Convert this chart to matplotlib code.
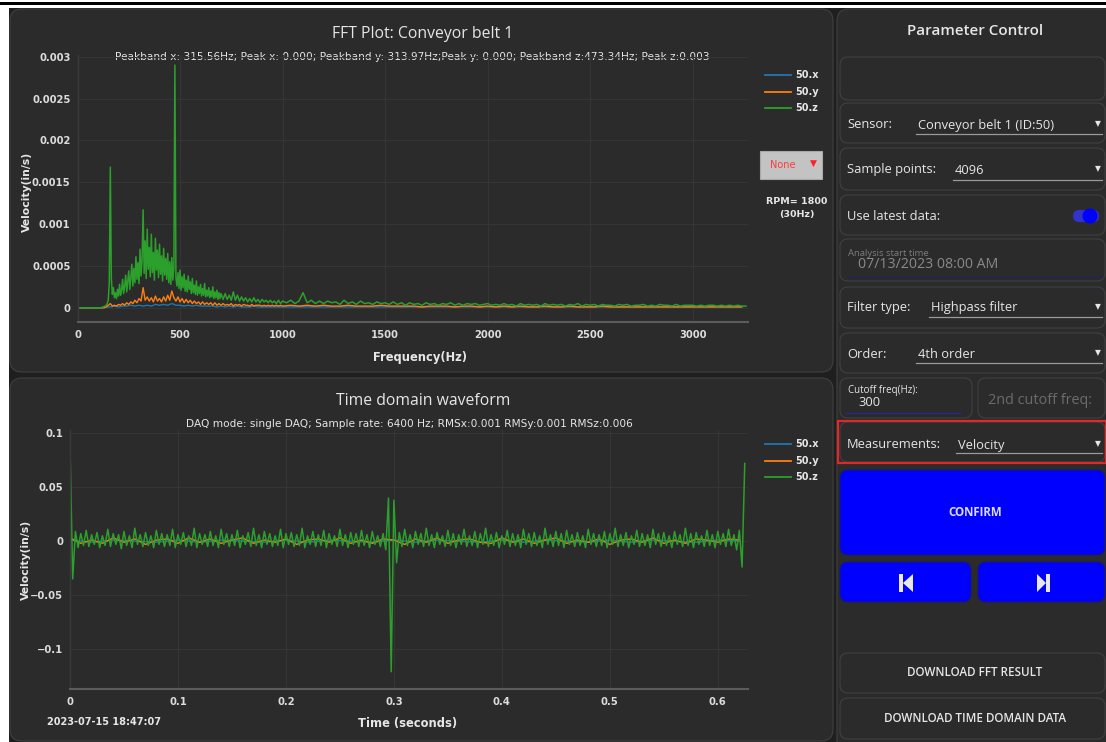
import numpy as np
import matplotlib
matplotlib.use("Agg")
import matplotlib.pyplot as plt
from matplotlib.patches import FancyBboxPatch, Rectangle, Polygon, Circle

# ---------------- data ----------------
# FFT (values in 1e-4 in/s)
# segment A: 0..700 Hz, step 5 Hz
fft_z_a = [0, 0, 0, 0, 0, 0, 0, 0, 0, 0, 0, 0, 0, 0, 0, 0, 0, 0, 0, 0, 0, 0, 0, 0,
           0.05, 0.1, 0.15, 0.2, 0.3, 0.5, 0.9, 3.0, 16.8, 3.5, 1.6, 2.4, 1.2, 1.8, 1.1, 2.2,
           1.4, 2.8, 1.5, 2.1, 3.4, 1.7, 2.6, 3.9, 1.9, 3.1, 4.4, 2.2, 3.6, 5.2, 2.6, 4.7,
           3.0, 6.1, 3.4, 5.4, 2.9, 7.0, 3.8, 5.8, 11.7, 4.1, 8.0, 3.5, 9.4, 4.6, 7.2, 3.7,
           8.8, 4.2, 6.6, 3.3, 8.3, 4.5, 6.9, 3.6, 7.6, 4.0, 6.2, 3.2, 7.1, 3.9, 5.9, 3.4,
           6.5, 3.0, 5.5, 2.8, 6.0, 3.3, 4.8, 29.0, 3.6, 2.6, 4.2, 2.3, 4.5, 2.1, 3.7, 2.4,
           4.0, 2.0, 3.3, 1.9, 3.8, 2.2, 3.1, 1.7, 3.5, 1.8, 2.7, 1.6, 3.2, 1.5, 2.5, 1.7,
           2.8, 1.4, 2.3, 1.5, 2.9, 1.3, 2.1, 1.4, 2.4, 1.2, 2.0, 1.3, 2.5, 1.1, 1.9, 1.2,
           2.1, 1.0, 1.8, 1.1, 1.7]
# segment B: 710..1000 Hz, step 10 Hz
fft_z_b = [1.0, 1.7, 1.0, 1.5, 0.9, 1.9, 0.9, 1.5, 0.8, 1.3, 0.8, 1.2, 0.7, 1.1, 0.7,
           1.2, 0.7, 1.0, 0.6, 1.0, 0.7, 0.9, 0.6, 0.9, 0.6, 0.8, 0.5, 0.9, 0.5, 0.8]
# segment C: 1020..3260 Hz, step 20 Hz
fft_z_c = [0.6, 0.9, 0.5, 0.8, 1.8, 0.6, 0.9, 0.5, 0.8,
           0.5, 0.8, 0.6, 0.7, 0.4, 0.9, 0.5, 0.7, 0.4, 0.8, 0.5, 0.6, 0.4, 0.7, 0.5,
           0.6, 0.4, 0.7, 0.4, 0.6, 0.3, 0.6, 0.4, 0.5, 0.3, 0.6, 0.4, 0.5, 0.3, 0.5,
           0.4, 0.6, 0.3, 0.5, 0.3, 0.5, 0.4, 0.5, 0.3, 0.4,
           0.5, 0.3, 0.4, 0.3, 0.5, 0.3, 0.4, 0.2, 0.5, 0.3, 0.4, 0.3, 0.4, 0.2, 0.5,
           0.3, 0.4, 0.3, 0.4, 0.2, 0.4, 0.3, 0.5, 0.2, 0.4,
           0.3, 0.4, 0.2, 0.4, 0.3, 0.3, 0.2, 0.4, 0.3, 0.4, 0.2, 0.3, 0.3, 0.4, 0.2,
           0.3, 0.2, 0.4, 0.3, 0.3, 0.2, 0.4, 0.2, 0.3, 0.3,
           0.3, 0.2, 0.3, 0.2, 0.3, 0.3, 0.2, 0.3, 0.2, 0.3, 0.2, 0.3, 0.2, 0.2]
# y axis: 0..1000 step 10, then from 1040 step 40
fft_y_lo = [0, 0, 0, 0, 0, 0, 0, 0, 0, 0, 0, 0, 0, 0, 0.1, 0.3, 0.5, 0.2, 0.3, 0.2,
            0.4, 0.3, 0.5, 0.3, 0.6, 0.4, 0.7, 0.5, 0.9, 0.6, 1.1, 0.8, 2.4, 0.9, 1.3, 0.8,
            1.2, 0.7, 1.4, 0.8, 1.1, 0.7, 1.3, 0.8, 1.5, 0.9, 2.0, 1.2, 0.8, 1.3, 0.7, 1.1,
            0.6, 1.0, 0.6, 0.9, 0.5, 0.8, 0.5, 0.7, 0.4, 0.7, 0.4, 0.6, 0.4, 0.6, 0.3, 0.6,
            0.3, 0.5, 0.3, 0.5, 0.3, 0.4, 0.3, 0.5, 0.2, 0.4, 0.3, 0.4, 0.2, 0.4, 0.3, 0.3,
            0.2, 0.4, 0.2, 0.3, 0.3, 0.3, 0.2, 0.3, 0.2, 0.3, 0.2, 0.3, 0.2, 0.3, 0.2, 0.3, 0.2]
fft_y_hi = [0.3, 0.2, 0.3, 0.2, 0.3, 0.2, 0.2, 0.3, 0.2, 0.2, 0.2, 0.3, 0.2, 0.2,
            0.2, 0.2, 0.1, 0.2, 0.2, 0.2, 0.1, 0.2, 0.2, 0.1, 0.2, 0.1, 0.2, 0.1,
            0.2, 0.1, 0.1, 0.2, 0.1, 0.1, 0.2, 0.1, 0.1, 0.1, 0.2, 0.1, 0.1, 0.1,
            0.1, 0.1, 0.1, 0.1, 0.1, 0.1, 0.1, 0.1, 0.1, 0.1, 0.1, 0.1, 0.1, 0.1]
# x axis: 0..1000 step 20, then from 1040 step 40
fft_x_lo = [0, 0, 0, 0, 0, 0, 0, 0.1, 0.1, 0.2, 0.1, 0.2, 0.2, 0.3, 0.2, 0.3, 0.2, 0.3,
            0.2, 0.4, 0.3, 0.4, 0.3, 0.5, 0.3, 0.3, 0.2, 0.3, 0.2, 0.3, 0.2, 0.2, 0.2,
            0.2, 0.1, 0.2, 0.1, 0.2, 0.1, 0.2, 0.1, 0.1, 0.1, 0.2, 0.1, 0.1, 0.1, 0.1,
            0.1, 0.1, 0.1]
fft_x_hi = [0.1, 0.1, 0.1, 0.1, 0.1, 0.1, 0.1, 0.1, 0.1, 0.1, 0.1, 0.1, 0.1, 0.1,
            0.1, 0.1, 0.1, 0.1, 0.1, 0.1, 0.1, 0.1, 0.1, 0.1, 0.1, 0.1, 0.1, 0.1,
            0.1, 0.1, 0.1, 0.1, 0.1, 0.1, 0.1, 0.1, 0.1, 0.1, 0.1, 0.1, 0.1, 0.1,
            0.1, 0.1, 0.1, 0.1, 0.1, 0.1, 0.1, 0.1, 0.1, 0.1, 0.1, 0.1, 0.1, 0.1]

# Time domain (values in 1e-3 in/s)
td_dt_z = 0.0025
td_z = [88, -35, 9, -6, 7, -4, 10, -5, 6, -3,
        8, -6, 5, -4, 11, -5, 7, -3, 6, -7,
        9, -4, 5, -6, 12, -3, 6, -5, 8, -4,
        5, -6, 10, -3, 7, -5, 6, -4, 11, -6,
        6, -3, 8, -5, 5, -4, 12, -6, 7, -3,
        6, -5, 9, -4, 5, -6, 11, -3, 7, -5,
        6, -4, 10, -6, 5, -3, 8, -5, 12, -4,
        6, -6, 9, -3, 7, -5, 5, -4, 11, -6,
        7, -3, 8, -5, 6, -4, 12, -6, 5, -3,
        9, -5, 6, -4, 10, -6, 7, -3, 5, -5,
        11, -4, 6, -6, 8, -3, 7, -5, 10, -4,
        6, -6, 9, -3, 5, -5, 7, -8, 40, -121,
        38, -20, 8, -5, 11, -4, 6, -6, 9, -3,
        7, -5, 12, -4, 6, -6, 8, -3, 5, -5,
        10, -4, 7, -6, 6, -3, 11, -5, 5, -4,
        9, -6, 7, -3, 12, -5, 6, -4, 8, -6,
        5, -3, 10, -5, 7, -4, 6, -6, 11, -3,
        7, -5, 8, -4, 5, -6, 12, -3, 6, -5,
        9, -4, 7, -6, 10, -3, 6, -5, 8, -4,
        5, -6, 11, -3, 7, -5, 6, -4, 9, -6,
        7, -3, 12, -5, 6, -4, 8, -6, 5, -3,
        10, -5, 7, -4, 6, -6, 11, -3, 7, -5,
        8, -4, 5, -6, 9, -3, 6, -5, 12, -4,
        7, -6, 8, -3, 5, -5, 10, -4, 6, -6,
        9, -3, 7, -5, 11, -4, 6, -8, 10, -24,
        72]
td_dt_y = 0.01
td_y = [3, -2, 1, -2, 3, -1, 2, -3, 1, 2, -2, 3, -1, 2, -2, 1, 3, -2, 1, -1,
        2, -3, 1, 2, -1, 3, -2, 1, -2, 2, 1, -3, 2, -1, 3, -2, 1, 2, -1, -2,
        3, -1, 2, -2, 1, 3, -2, 1, -1, 2, -3, 1, 2, -1, 3, -2, 1, -2, 2, 1, -1, 2, 1]
td_dt_x = 0.02
td_x = [1, -1, 1, 0, -1, 1, -1, 1, 0, -1, 1, -1, 1, 0, -1, 1,
        -1, 1, 0, -1, 1, -1, 1, 0, -1, 1, -1, 1, 0, -1, 1, 0]

series_names = ["50.x", "50.y", "50.z"]
series_colors = ["#1f77b4", "#ff7f0e", "#2ca02c"]

fft_xticks = [0, 500, 1000, 1500, 2000, 2500, 3000]
fft_yticks = [0, 0.0005, 0.001, 0.0015, 0.002, 0.0025, 0.003]
fft_yticklabels = ["0", "0.0005", "0.001", "0.0015", "0.002", "0.0025", "0.003"]
td_xticks = [0, 0.1, 0.2, 0.3, 0.4, 0.5, 0.6]
td_xticklabels = ["0", "0.1", "0.2", "0.3", "0.4", "0.5", "0.6"]
td_yticks = [-0.1, -0.05, 0, 0.05, 0.1]
td_yticklabels = ["\u22120.1", "\u22120.05", "0", "0.05", "0.1"]

# ---------------- figure ----------------
W, H = 1106, 742
fig = plt.figure(figsize=(W / 100, H / 100), dpi=100, facecolor="white")
bg = fig.add_axes([0, 0, 1, 1], zorder=0)
bg.set_xlim(0, W)
bg.set_ylim(H, 0)
bg.axis("off")

PANEL = "#2b2b2b"
EDGE = "#404040"
TXT = "#e6e6e6"
UI = "Open Sans"


def box(x0, y0, x1, y1, fc=PANEL, ec=EDGE, lw=0.8, r=8, z=1):
    p = FancyBboxPatch((x0, y0), x1 - x0, y1 - y0,
                       boxstyle=f"round,pad=0,rounding_size={r}",
                       fc=fc, ec=ec, lw=lw, zorder=z)
    bg.add_patch(p)


# top strip
bg.add_patch(Rectangle((0, 2), W, 2.5, fc="black", ec="none", zorder=1))
bg.add_patch(Rectangle((9, 8), W - 9, H - 8, fc="#1f1f1f", ec="none", zorder=0.5))

# main panels
box(10, 9, 833, 372, r=12)
box(10, 378, 833, 741, r=12)
box(837, 9, 1120, 760, r=12)

# ---------------- axes ----------------
ax1 = fig.add_axes([77.5 / W, 1 - 322 / H, (748 - 77.5) / W, (322 - 55) / H], zorder=2)
ax2 = fig.add_axes([70 / W, 1 - 689 / H, (748 - 70) / W, (689 - 430) / H], zorder=2)


def style(ax):
    ax.set_facecolor("none")
    for s in ["top", "right"]:
        ax.spines[s].set_visible(False)
    ax.spines["bottom"].set_color("#5c5c5c")
    ax.spines["bottom"].set_linewidth(1.5)
    ax.spines["left"].set_color("#3a3a3a")
    ax.spines["left"].set_linewidth(1.0)
    ax.grid(True, color="#353535", lw=0.8)
    ax.set_axisbelow(True)
    ax.tick_params(length=0, colors="#dcdcdc", labelsize=7.2)
    ax.tick_params(axis="x", pad=6)
    ax.tick_params(axis="y", pad=5)


fa = np.arange(len(fft_z_a)) * 5
fb = 710 + np.arange(len(fft_z_b)) * 10
fc_ = 1020 + np.arange(len(fft_z_c)) * 20
fz = np.concatenate([fa, fb, fc_])
vz = np.array(fft_z_a + fft_z_b + fft_z_c) * 1e-4
fy = np.concatenate([np.arange(len(fft_y_lo)) * 10,
                     1000 + (np.arange(len(fft_y_hi)) + 1) * 40])
vy = np.array(fft_y_lo + fft_y_hi) * 1e-4
fx = np.concatenate([np.arange(len(fft_x_lo)) * 20,
                     1000 + (np.arange(len(fft_x_hi)) + 1) * 40])
vx = np.array(fft_x_lo + fft_x_hi) * 1e-4

ax1.plot(fx, vx, color=series_colors[0], lw=1.0)
ax1.plot(fy, vy, color=series_colors[1], lw=1.0)
ax1.plot(fz, vz, color=series_colors[2], lw=1.1)
ax1.set_xlim(0, 3270)
ax1.set_ylim(-0.00017, 0.00302)
ax1.set_xticks(fft_xticks)
ax1.set_xticklabels([str(v) for v in fft_xticks])
ax1.set_yticks(fft_yticks)
ax1.set_yticklabels(fft_yticklabels)
style(ax1)

tz = np.arange(len(td_z)) * td_dt_z
ty = np.arange(len(td_y)) * td_dt_y
tx = np.arange(len(td_x)) * td_dt_x
ax2.plot(tx, np.array(td_x) * 1e-3, color=series_colors[0], lw=1.0)
ax2.plot(ty, np.array(td_y) * 1e-3, color=series_colors[1], lw=1.0)
ax2.plot(tz, np.array(td_z) * 1e-3, color=series_colors[2], lw=1.1)
ax2.set_xlim(0, 0.628)
ax2.set_ylim(-0.137, 0.103)
ax2.set_xticks(td_xticks)
ax2.set_xticklabels(td_xticklabels)
ax2.set_yticks(td_yticks)
ax2.set_yticklabels(td_yticklabels)
style(ax2)

for ax in (ax1, ax2):
    for lbl in ax.get_xticklabels() + ax.get_yticklabels():
        lbl.set_fontweight("bold")

# ---------------- chart texts ----------------
bg.text(423, 34, "FFT Plot: Conveyor belt 1", color=TXT, fontsize=11.3, family=UI,
        ha="center", va="center", zorder=3)
bg.text(412, 57, "Peakband x: 315.56Hz; Peak x: 0.000; Peakband y: 313.97Hz;Peak y: 0.000; "
        "Peakband z:473.34Hz; Peak z:0.003", color=TXT, fontsize=7.6, ha="center",
        va="center", zorder=3)
bg.text(420, 357, "Frequency(Hz)", color=TXT, fontsize=8.3, fontweight="bold",
        ha="center", va="center", zorder=3)
bg.text(27, 192, "Velocity(in/s)", color=TXT, fontsize=7.8, fontweight="bold",
        rotation=90, ha="center", va="center", zorder=3)

bg.text(423, 401, "Time domain waveform", color=TXT, fontsize=11.3, family=UI,
        ha="center", va="center", zorder=3)
bg.text(409, 424, "DAQ mode: single DAQ; Sample rate: 6400 Hz; RMSx:0.001 RMSy:0.001 RMSz:0.006",
        color=TXT, fontsize=7.6, ha="center", va="center", zorder=3)
bg.text(408, 723, "Time (seconds)", color=TXT, fontsize=8.3, fontweight="bold",
        ha="center", va="center", zorder=3)
bg.text(26, 560, "Velocity(in/s)", color=TXT, fontsize=7.8, fontweight="bold",
        rotation=90, ha="center", va="center", zorder=3)
bg.text(47, 722, "2023-07-15 18:47:07", color=TXT, fontsize=7, fontweight="bold",
        ha="left", va="center", zorder=3)

# legends
for ys in ([75, 92, 108], [444, 461, 477]):
    for yy, name, col in zip(ys, series_names, series_colors):
        bg.plot([765, 791], [yy, yy], color=col, lw=1.3, zorder=3)
        bg.text(795, yy, name, color=TXT, fontsize=7, fontweight="bold",
                ha="left", va="center", zorder=3)

# None dropdown + RPM
bg.add_patch(Rectangle((760, 151), 62, 28, fc="#c3c3c3", ec="#a8a8a8", lw=0.8, zorder=3))
bg.text(783, 165, "None", color="#ff3b3b", fontsize=7, ha="center", va="center", zorder=4)
bg.text(813, 163, "\u25BC", color="#ff2020", fontsize=6.5, ha="center", va="center", zorder=4)
bg.text(797, 201, "RPM= 1800", color=TXT, fontsize=6.8, fontweight="bold",
        ha="center", va="center", zorder=3)
bg.text(797, 215, "(30Hz)", color=TXT, fontsize=6.8, fontweight="bold",
        ha="center", va="center", zorder=3)

# ---------------- right control panel ----------------
bg.text(975, 31, "Parameter Control", color=TXT, fontsize=10.9, family=UI,
        fontweight="semibold", ha="center", va="center", zorder=3)

rows = [(57, 100), (103, 143), (148, 190), (195, 235), (239, 281), (287, 328), (333, 373)]
for y0, y1 in rows:
    box(840, y0, 1105, y1, r=8, z=2)
box(840, 378, 972, 418, r=8, z=2)
box(978, 378, 1105, 418, r=8, z=2)
box(840, 653, 1105, 693, r=8, z=2)
box(840, 698, 1105, 739, r=8, z=2)

LBL = dict(color=TXT, fontsize=9.3, family=UI, va="center", zorder=4)


def dropdown(y, label, value, xv, yline):
    bg.text(847, y, label, ha="left", **LBL)
    bg.text(xv, y, value, ha="left", **LBL)
    bg.plot([xv - 2, 1102], [yline, yline], color="#9a9a9a", lw=0.9, zorder=4)
    bg.text(1098, y - 2, "\u25BE", color=TXT, fontsize=8.5, ha="center", va="center", zorder=4)


dropdown(125, "Sensor:", "Conveyor belt 1 (ID:50)", 918, 134)
dropdown(170, "Sample points:", "4096", 955, 180)
bg.text(847, 216, "Use latest data:", ha="left", **LBL)
box(1073, 210, 1099, 222, fc="#3333c8", ec="none", r=6, z=4)
bg.add_patch(Circle((1090, 216), 7.5, fc="#0000ff", ec="none", zorder=5))

bg.text(848, 253, "Analysis start time", color="#7c7c7c", fontsize=6.8, family=UI,
        ha="left", va="center", zorder=4)
bg.text(858, 265, "07/13/2023 08:00 AM", color="#8a8a8a", fontsize=10.2, family=UI,
        ha="left", va="center", zorder=4)
bg.plot([848, 1102], [277, 277], color="#23235e", lw=1.0, zorder=4)

dropdown(308, "Filter type:", "Highpass filter", 931, 317)
dropdown(354, "Order:", "4th order", 918, 363)

bg.text(848, 390, "Cutoff freq(Hz):", color=TXT, fontsize=7, family=UI,
        ha="left", va="center", zorder=4)
bg.text(858, 403, "300", ha="left", **LBL)
bg.plot([846, 960], [413, 413], color="#2a2a8c", lw=1.0, zorder=4)
bg.text(988, 401, "2nd cutoff freq:", color="#6c6c6c", fontsize=10.4, family=UI,
        ha="left", va="center", zorder=4)

# measurements (red outline)
box(840, 422, 1105, 462, r=8, z=2)
bg.add_patch(Rectangle((838, 421), 268, 42, fc="none", ec="#e02828", lw=1.6, zorder=5))
dropdown(445, "Measurements:", "Velocity", 958, 453)

# confirm + nav buttons
box(840, 470, 1105, 555, fc="#0000ff", ec="#1a1a6a", r=8, z=2)
bg.text(975, 513, "CONFIRM", color="#dcdcff", fontsize=8.3, family=UI,
        fontweight="bold", ha="center", va="center", zorder=4)
box(840, 562, 971, 602, fc="#0000ff", ec="#1a1a6a", r=8, z=2)
box(978, 562, 1105, 602, fc="#0000ff", ec="#1a1a6a", r=8, z=2)
ICON = "#e8e8e8"
bg.add_patch(Rectangle((899, 574), 4, 18, fc=ICON, ec="none", zorder=4))
bg.add_patch(Polygon([(903, 583), (913, 574), (913, 592)], closed=True, fc=ICON, ec="none", zorder=4))
bg.add_patch(Polygon([(1037, 574), (1037, 592), (1046, 583)], closed=True, fc=ICON, ec="none", zorder=4))
bg.add_patch(Rectangle((1046, 574), 4, 18, fc=ICON, ec="none", zorder=4))

bg.text(975, 673, "DOWNLOAD FFT RESULT", color=TXT, fontsize=8.4, family=UI,
        fontweight="semibold", ha="center", va="center", zorder=4)
bg.text(975, 718, "DOWNLOAD TIME DOMAIN DATA", color=TXT, fontsize=8.4, family=UI,
        fontweight="semibold", ha="center", va="center", zorder=4)

fig.savefig("out.png", dpi=100, facecolor="white")
